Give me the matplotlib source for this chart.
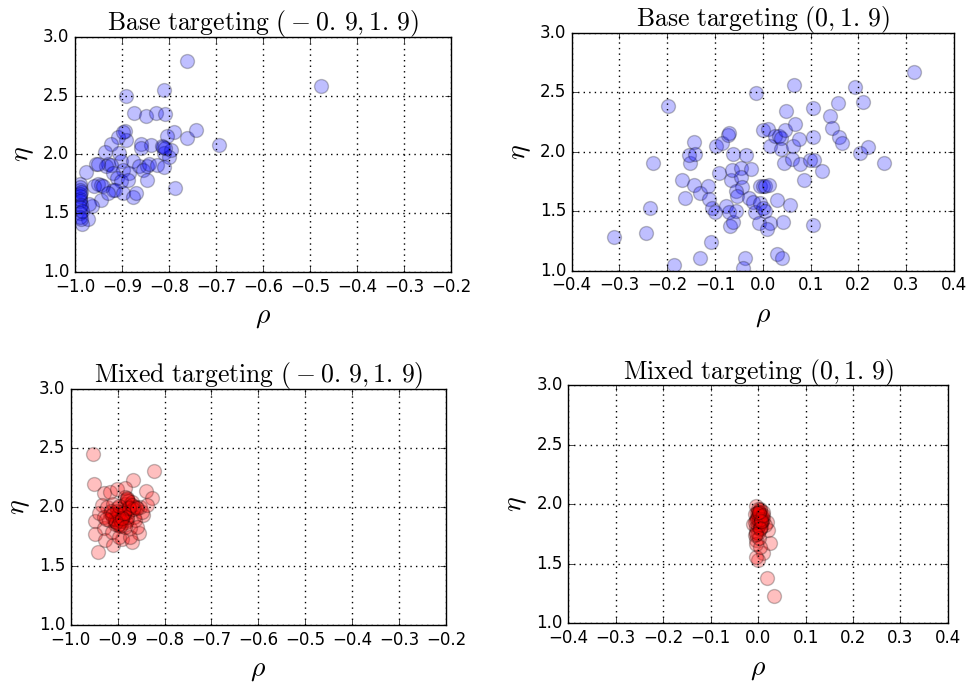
import matplotlib
matplotlib.use('Agg')
import matplotlib.pyplot as plt
import numpy as np

plt.style.use('classic')
plt.rcParams['mathtext.fontset'] = 'cm'
plt.rcParams['savefig.facecolor'] = 'white'
plt.rcParams['figure.facecolor'] = 'white'

# Base targeting (-0.9, 1.9)
base_a_rho = [-0.762, -0.477, -0.892, -0.810, -0.875, -0.850, -0.828, -0.808, -0.894, -0.892,
              -0.909, -0.790, -0.805, -0.762, -0.743, -0.694, -0.860, -0.838, -0.860, -0.814,
              -0.810, -0.800, -0.796, -0.923, -0.937, -0.906, -0.902, -0.955, -0.930, -0.934,
              -0.923, -0.877, -0.899, -0.885, -0.920, -0.910, -0.902, -0.887, -0.863, -0.846,
              -0.856, -0.842, -0.826, -0.810, -0.846, -0.788, -0.977, -0.952, -0.945, -0.960,
              -0.941, -0.920, -0.916, -0.899, -0.877, -0.870, -0.944, -0.930, -0.963, -0.970,
              -0.972, -0.986, -0.990, -0.989, -0.990, -0.988, -0.990, -0.989, -0.990, -0.988,
              -0.990, -0.989, -0.990, -0.988, -0.986, -0.990, -0.952, -0.897, -0.812, -0.808]
base_a_eta = [2.79, 2.58, 2.50, 2.55, 2.35, 2.33, 2.35, 2.34, 2.20, 2.12,
              2.15, 2.19, 2.16, 2.14, 2.21, 2.08, 2.09, 2.08, 2.05, 2.07,
              2.01, 1.98, 2.04, 2.09, 2.02, 2.01, 1.94, 1.92, 1.92, 1.90,
              1.91, 1.94, 1.87, 1.84, 1.84, 1.80, 1.77, 1.78, 1.90, 1.90,
              1.87, 1.92, 1.91, 1.89, 1.78, 1.71, 1.85, 1.75, 1.74, 1.73,
              1.73, 1.70, 1.70, 1.67, 1.64, 1.67, 1.61, 1.67, 1.56, 1.58,
              1.45, 1.41, 1.75, 1.72, 1.70, 1.68, 1.65, 1.62, 1.60, 1.57,
              1.55, 1.50, 1.47, 1.45, 1.52, 1.66, 1.92, 2.19, 2.06, 2.05]

# Base targeting (0, 1.9)
base_b_rho = [0.317, -0.311, -0.245, -0.236, -0.229, -0.199, -0.185, -0.169, -0.163, -0.152,
              -0.145, -0.154, -0.142, -0.144, -0.131, -0.131, -0.115, -0.113, -0.107, -0.100,
              -0.108, -0.098, -0.086, -0.092, -0.073, -0.071, -0.063, -0.078, -0.070, -0.069,
              -0.062, -0.057, -0.067, -0.064, -0.046, -0.045, -0.043, -0.056, -0.053, -0.036,
              -0.024, -0.037, -0.042, -0.029, -0.021, -0.015, -0.016, -0.009, -0.006, 0.001,
              0.005, 0.012, -0.006, 0.001, 0.005, 0.001, 0.010, 0.014, 0.014, 0.008,
              0.026, 0.033, 0.038, 0.047, 0.038, 0.029, 0.029, 0.040, 0.043, 0.045,
              0.048, 0.056, 0.066, 0.068, 0.064, 0.075, 0.062, 0.077, 0.087, 0.099,
              0.108, 0.105, 0.106, 0.106, 0.124, 0.141, 0.145, 0.157, 0.159, 0.166,
              0.192, 0.210, 0.204, 0.220, 0.253]
base_b_eta = [2.67, 1.285, 1.32, 1.53, 1.905, 2.385, 1.05, 1.765, 1.61, 1.905,
              2.08, 1.97, 1.98, 1.72, 1.65, 1.11, 1.715, 1.60, 1.53, 1.49,
              1.24, 2.05, 2.07, 1.82, 2.14, 2.155, 1.98, 1.54, 1.49, 1.375,
              1.41, 1.50, 1.76, 1.85, 1.86, 1.79, 1.70, 1.67, 1.625, 1.975,
              1.855, 1.11, 1.02, 1.61, 1.58, 2.49, 1.49, 1.40, 1.71, 1.71,
              1.71, 1.72, 1.57, 1.53, 1.50, 2.18, 2.19, 2.05, 1.40, 1.35,
              2.13, 2.13, 2.115, 2.18, 2.02, 1.59, 1.14, 1.11, 1.41, 1.905,
              2.34, 1.555, 2.56, 2.23, 2.05, 2.105, 1.94, 1.90, 1.765, 1.93,
              1.93, 2.12, 2.37, 1.38, 1.84, 2.30, 2.20, 2.41, 2.12, 2.07,
              2.54, 2.42, 1.99, 2.04, 1.905]

# Mixed targeting (-0.9, 1.9)
mixed_a_rho = [-0.953, -0.951, -0.942, -0.823, -0.868, -0.839, -0.827, -0.930, -0.916, -0.901,
               -0.884, -0.933, -0.948, -0.948, -0.930, -0.926, -0.909, -0.891, -0.869, -0.855,
               -0.845, -0.852, -0.866, -0.880, -0.891, -0.901, -0.916, -0.905, -0.880, -0.894,
               -0.912, -0.873, -0.862, -0.866, -0.884, -0.923, -0.940, -0.848, -0.837, -0.898,
               -0.901, -0.889, -0.877, -0.909, -0.894, -0.919, -0.930, -0.909, -0.884, -0.873,
               -0.887, -0.898, -0.873, -0.859, -0.880, -0.878, -0.870, -0.895, -0.905, -0.890,
               -0.883, -0.900, -0.875, -0.860, -0.892, -0.902, -0.886, -0.880, -0.896, -0.910,
               -0.905, -0.893, -0.881, -0.868, -0.912, -0.899, -0.887, -0.876, -0.903, -0.891,
               -0.870, -0.915, -0.858, -0.925, -0.884, -0.897]
mixed_a_eta = [2.45, 2.20, 1.62, 2.31, 2.23, 2.14, 2.08, 2.12, 2.13, 2.15,
               2.16, 2.02, 1.88, 1.77, 1.82, 1.72, 1.68, 1.73, 1.70, 1.78,
               1.935, 2.005, 2.005, 2.06, 1.96, 1.92, 1.95, 1.86, 1.89, 1.84,
               1.79, 1.82, 1.89, 1.92, 2.09, 2.005, 1.95, 1.96, 2.02, 1.75,
               1.99, 1.94, 1.96, 1.91, 1.89, 1.89, 1.92, 2.03, 2.03, 2.03,
               1.935, 1.96, 1.75, 1.835, 2.07, 2.05, 2.04, 1.90, 1.88, 1.91,
               1.87, 1.93, 2.00, 2.00, 1.85, 1.97, 1.95, 2.08, 1.86, 1.94,
               1.90, 1.88, 1.92, 1.98, 1.93, 1.85, 1.95, 1.99, 1.87, 1.91,
               2.02, 1.97, 1.99, 1.90, 1.83, 2.01]

# Mixed targeting (0, 1.9)
mixed_b_rho = [0.034, 0.018, 0.011, 0.025, 0.000, -0.005, -0.004, -0.007, -0.011, -0.004,
               0.000, 0.004, 0.011, 0.018, 0.021, 0.007, -0.004, -0.005, 0.000, -0.004,
               0.004, 0.011, -0.007, 0.004, 0.014, 0.000, -0.004, 0.004, 0.002, 0.006,
               -0.002, 0.008, 0.003, -0.003, 0.001, 0.005, -0.001, 0.009, 0.002, -0.006,
               0.004, 0.000, 0.007, -0.002, 0.003, 0.010, 0.001, -0.004, 0.006, 0.002]
mixed_b_eta = [1.235, 1.385, 1.59, 1.68, 1.53, 1.56, 1.705, 1.74, 1.84, 1.985,
               1.94, 1.91, 1.88, 1.855, 1.785, 1.81, 1.81, 1.77, 1.90, 1.87,
               1.95, 1.94, 1.92, 1.84, 1.83, 1.76, 1.67, 1.645, 1.93, 1.90,
               1.89, 1.86, 1.96, 1.88, 1.92, 1.85, 1.82, 1.90, 1.87, 1.85,
               1.79, 1.96, 1.88, 1.93, 1.80, 1.91, 1.72, 1.75, 1.86, 1.94]

titles = [r'$\mathrm{Base\ targeting}\ (\:-\:0.\,9, 1.\,9)$',
          r'$\mathrm{Base\ targeting}\ (0, 1.\,9)$',
          r'$\mathrm{Mixed\ targeting}\ (\:-\:0.\,9, 1.\,9)$',
          r'$\mathrm{Mixed\ targeting}\ (0, 1.\,9)$']
panels = [(base_a_rho, base_a_eta, 'b', (-1.0, -0.2)),
          (base_b_rho, base_b_eta, 'b', (-0.4, 0.4)),
          (mixed_a_rho, mixed_a_eta, 'r', (-1.0, -0.2)),
          (mixed_b_rho, mixed_b_eta, 'r', (-0.4, 0.4))]
# axes boxes in figure fraction
boxes = [[0.0776, 0.6012, 0.3888, 0.3450],
         [0.5912, 0.6031, 0.3953, 0.3490],
         [0.0731, 0.0836, 0.3881, 0.3456],
         [0.5877, 0.0858, 0.3926, 0.3490]]

fig = plt.figure(figsize=(9.67, 6.82), dpi=100)
for (rho, eta, col, xl), box, title in zip(panels, boxes, titles):
    ax = fig.add_axes(box)
    ax.scatter(rho, eta, s=100, c=col, alpha=0.25, edgecolors='k', linewidths=1.0)
    ax.set_xlim(xl)
    ax.set_ylim(1.0, 3.0)
    ax.set_xticks(np.arange(xl[0], xl[1] + 0.001, 0.1))
    ax.set_yticks([1.0, 1.5, 2.0, 2.5, 3.0])
    ax.tick_params(labelsize=12)
    ax.grid(True, color='k', linestyle=':', linewidth=1.0)
    ax.set_title(title, fontsize=18.5)
    ax.set_xlabel(r'$\rho$', fontsize=20)
    ax.set_ylabel(r'$\eta$', fontsize=20)

fig.savefig('out.png', dpi=100)
